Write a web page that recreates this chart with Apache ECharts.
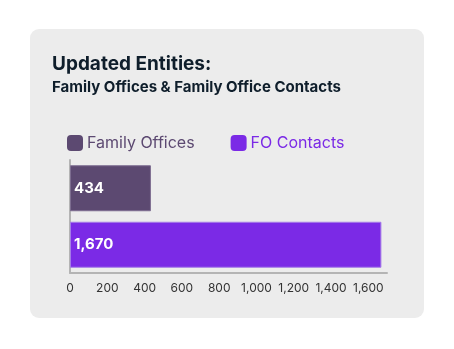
<!DOCTYPE html>
<html>
<head>
<meta charset="utf-8">
<script src="https://cdn.jsdelivr.net/npm/echarts@6/dist/echarts.min.js"></script>
<style>
  html, body { margin: 0; padding: 0; background: #ffffff; }
  #card {
    position: absolute; left: 30px; top: 29px; width: 394px; height: 289px;
    background: #ececec; border-radius: 9px;
  }
  #chart { position: absolute; left: 0; top: 0; width: 454px; height: 349px; }
</style>
</head>
<body>
<div id="card"></div>
<div id="chart"></div>
<script>
// Entity counts shown as horizontal bars
const categories = ['Family Offices', 'FO Contacts'];
const familyOffices = [434, null];
const foContacts = [null, 1670];
const tickValues = [0, 200, 400, 600, 800, 1000, 1200, 1400, 1600];

const darkPurple = '#5c4971';
const brightPurple = '#7b2ae6';
const font = 'Inter, "Liberation Sans", sans-serif';

const chart = echarts.init(document.getElementById('chart'), null, { renderer: 'canvas' });

const labelStyle = {
  show: true,
  position: 'insideLeft',
  distance: 4,
  color: '#ffffff',
  fontFamily: font,
  fontWeight: 'bold',
  fontSize: 15,
  formatter: p => p.value.toLocaleString('en-US')
};

chart.setOption({
  animation: false,
  backgroundColor: 'transparent',
  title: [
    {
      text: 'Updated Entities:',
      left: 52, top: 55, padding: 0,
      textStyle: { fontFamily: font, fontWeight: 'bold', fontSize: 19, color: '#0f1e2b' }
    },
    {
      text: 'Family Offices & Family Office Contacts',
      left: 52, top: 80, padding: 0,
      textStyle: { fontFamily: font, fontWeight: 'bold', fontSize: 15, color: '#0f1e2b' }
    }
  ],
  legend: {
    left: 67, top: 135, padding: 0,
    itemWidth: 16, itemHeight: 16, itemGap: 36,
    icon: 'roundRect',
    itemStyle: { borderWidth: 0 },
    textStyle: { fontFamily: font, fontSize: 16, padding: [0, 0, 0, -1] },
    data: [
      { name: 'Family Offices', textStyle: { color: darkPurple } },
      { name: 'FO Contacts', textStyle: { color: brightPurple } }
    ]
  },
  grid: { left: 70, right: 67, top: 160, bottom: 76 },
  xAxis: {
    type: 'value',
    min: 0, max: 1700, interval: 200,
    splitLine: { show: false },
    axisLine: { show: true, lineStyle: { color: '#b4b4b4', width: 2 } },
    axisTick: { show: false },
    axisLabel: {
      showMaxLabel: false,
      margin: 9,
      fontFamily: font, fontSize: 12, color: '#333333',
      formatter: v => tickValues.includes(v) ? v.toLocaleString('en-US') : ''
    }
  },
  yAxis: {
    type: 'category',
    data: categories,
    inverse: true,
    axisLine: { show: true, lineStyle: { color: '#b4b4b4', width: 2 } },
    axisTick: { show: false },
    axisLabel: { show: false }
  },
  series: [
    {
      name: 'Family Offices', type: 'bar', stack: 'all', barWidth: 46,
      data: familyOffices,
      itemStyle: { color: darkPurple, borderColor: '#7d6d90', borderWidth: 1 },
      label: labelStyle
    },
    {
      name: 'FO Contacts', type: 'bar', stack: 'all', barWidth: 46,
      data: foContacts,
      itemStyle: { color: brightPurple, borderColor: '#a57ce8', borderWidth: 1 },
      label: labelStyle
    }
  ]
});
</script>
</body>
</html>
